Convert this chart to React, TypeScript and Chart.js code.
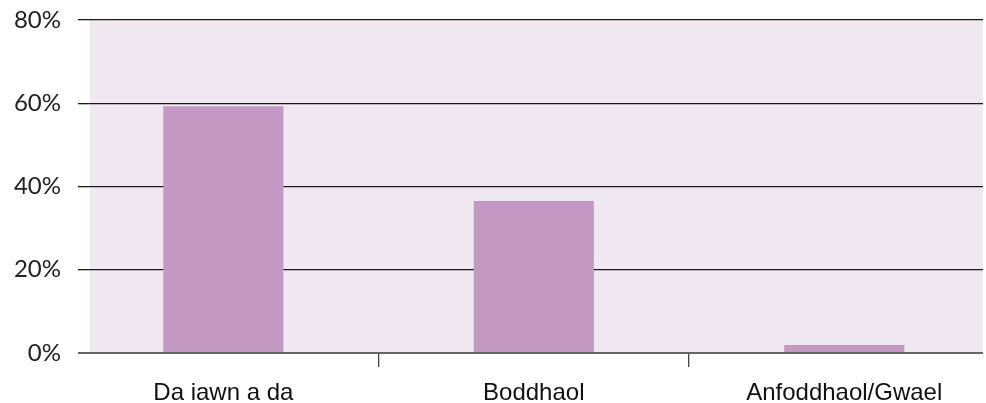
import React, { useEffect, useRef } from "react";
import { Chart, registerables } from "chart.js";

Chart.register(...registerables);

const categories = ["Da iawn a da", "Boddhaol", "Anfoddhaol/Gwael"];
const values = [59.3, 36.5, 1.9];
const yTicks = [0, 20, 40, 60, 80];

const BG = "#f0e8f0";
const BAR = "#c399c4";

const bgPlugin = {
  id: "plotBg",
  beforeDraw(chart: any) {
    const { ctx, chartArea } = chart;
    if (!chartArea) return;
    ctx.save();
    ctx.fillStyle = BG;
    ctx.fillRect(chartArea.left, chartArea.top, chartArea.right - chartArea.left, chartArea.bottom - chartArea.top);
    ctx.restore();
  },
};

export default function App() {
  const ref = useRef<HTMLCanvasElement>(null);
  useEffect(() => {
    if (!ref.current) return;
    const chart = new Chart(ref.current, {
      type: "bar",
      data: {
        datasets: [
          {
            data: values.map((v, i) => ({ x: i, y: v })),
            backgroundColor: BAR,
            barPercentage: 0.774,
            categoryPercentage: 1,
          },
        ],
      },
      plugins: [bgPlugin],
      options: {
        animation: false,
        responsive: true,
        maintainAspectRatio: false,
        layout: { padding: { top: 20, right: 3, left: 0, bottom: 0 } },
        plugins: { legend: { display: false }, tooltip: { enabled: false } },
        scales: {
          x: {
            type: "linear",
            offset: false,
            min: -0.4295,
            max: 2.447,
            afterBuildTicks: (scale: any) => {
              const t: any[] = [];
              categories.forEach((_, i) => {
                t.push({ value: i });
                if (i < categories.length - 1) t.push({ value: i + 0.5 });
              });
              scale.ticks = t;
            },
            afterFit: (scale: any) => {
              scale.height = 50;
              scale.paddingLeft = 0;
              scale.paddingRight = 0;
            },
            border: { display: false },
            grid: {
              offset: false,
              drawOnChartArea: false,
              drawTicks: true,
              tickLength: 14,
              lineWidth: 1.3,
              color: (ctx: any) => (ctx.tick && ctx.tick.value % 1 !== 0 ? "#444" : "rgba(0,0,0,0)"),
            },
            ticks: {
              autoSkip: false,
              maxRotation: 0,
              padding: 12,
              color: "#111",
              font: { family: "Liberation Sans, Arial, sans-serif", size: 24 },
              callback: (v: any) => (Number(v) % 1 === 0 ? categories[Number(v)] ?? "" : ""),
            },
          },
          y: {
            min: 0,
            max: 80,
            afterBuildTicks: (scale: any) => {
              scale.ticks = yTicks.map((v) => ({ value: v }));
            },
            afterFit: (scale: any) => {
              scale.width = 90;
              scale.paddingTop = 0;
              scale.paddingBottom = 0;
            },
            border: { display: false },
            grid: {
              drawTicks: true,
              tickLength: 12,
              lineWidth: (ctx: any) => (ctx.tick && ctx.tick.value === 0 ? 2 : 1.3),
              color: (ctx: any) => (ctx.tick && ctx.tick.value === 0 ? "#666" : "#1a1a1a"),
            },
            ticks: {
              padding: 17,
              color: "#222",
              font: { family: "Lato, sans-serif", size: 24 },
              callback: (v: any) => v + "%",
            },
          },
        },
      },
    });
    return () => chart.destroy();
  }, []);
  return (
    <div style={{ position: "fixed", left: 0, top: 0, width: 986, height: 403, background: "#fff" }}>
      <canvas ref={ref} />
    </div>
  );
}
